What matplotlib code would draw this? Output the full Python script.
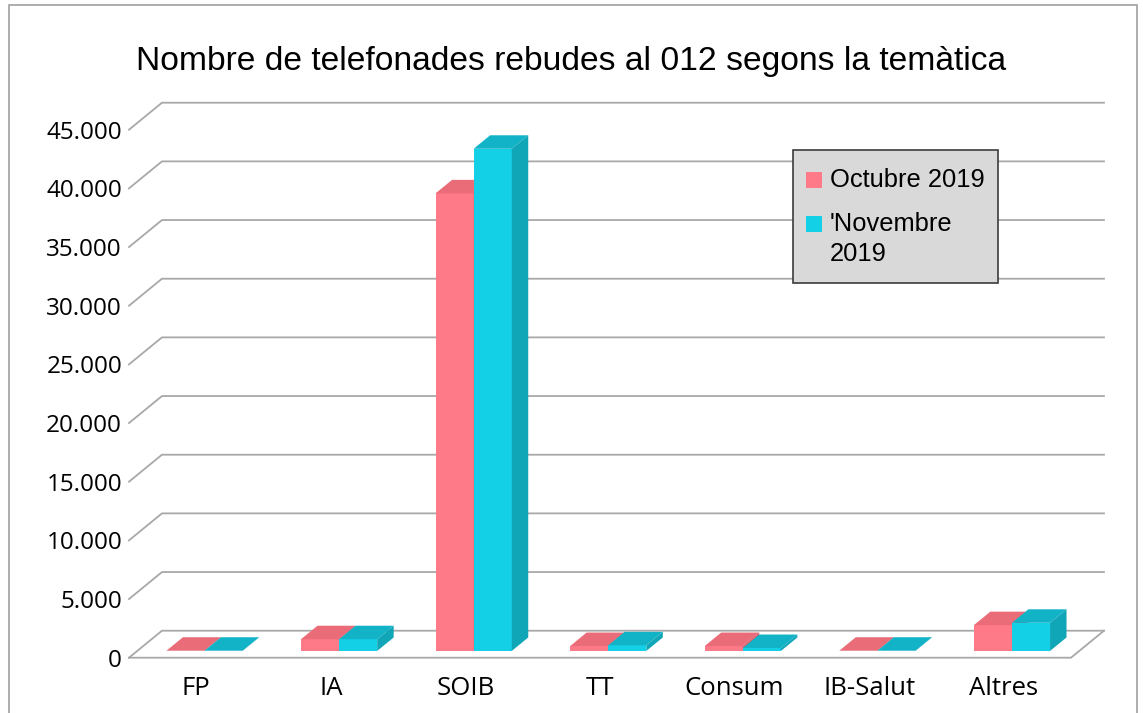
import matplotlib.pyplot as plt
from matplotlib.patches import Polygon, Rectangle

# Datos
categorias = ['FP', 'IA', 'SOIB', 'TT', 'Consum', 'IB-Salut', 'Altres']
octubre = [20, 1000, 39000, 420, 420, 20, 2200]
novembre = [20, 1000, 42800, 480, 250, 20, 2400]
series = ["Octubre 2019", "'Novembre\n2019"]
yticks = [0, 5000, 10000, 15000, 20000, 25000, 30000, 35000, 40000, 45000]

# Colores (frente, arriba, lado)
rosa = ('#ff7a88', '#e96c78', '#d8606c')
cian = ('#14d0e6', '#12b3c7', '#10a6b8')
gris = '#a8a8a8'

# Profundidad de la vista oblicua (en unidades de datos)
DX, DY = 0.245, 2300
ANCHO = 0.283

W, H = 1143, 713


def fx(px):
    return px / W


def fy(py):
    return 1 - py / H


def caja(ax, x0, v, colores):
    'Dibuja una barra pseudo 3D con su cara frontal, superior y lateral'
    bx, by = x0 + 0.25 * DX, 0.25 * DY
    dx, dy = 0.5 * DX, 0.5 * DY
    ax.bar(bx, v, ANCHO, bottom=by, align='edge', color=colores[0],
           clip_on=False, zorder=3)
    top = [(bx, by + v), (bx + ANCHO, by + v), (bx + ANCHO + dx, by + v + dy), (bx + dx, by + v + dy)]
    ax.add_patch(Polygon(top, closed=True, fc=colores[1], ec='none', clip_on=False, zorder=3))
    lado = [(bx + ANCHO, by), (bx + ANCHO + dx, by + dy), (bx + ANCHO + dx, by + v + dy), (bx + ANCHO, by + v)]
    ax.add_patch(Polygon(lado, closed=True, fc=colores[2], ec='none', clip_on=False, zorder=3))


fig = plt.figure(figsize=(W / 100, H / 100), dpi=100)
ax = fig.add_axes([fx(129), fy(657.7), 942 / W, 528 / H])
ax.set_xlim(-0.5, 6.5)
ax.set_ylim(0, 45000)

# Marco exterior
fig.patches.append(Rectangle((fx(9), -0.1), 1128 / W, 1.1 - 5 / H,
                             transform=fig.transFigure, fill=False, ec='#a0a0a0', lw=1.2))

# Pared del fondo y pared izquierda
for y in yticks:
    ax.plot([-0.5, -0.5 + DX, 6.5 + DX], [y, y + DY, y + DY], color=gris, lw=1.3,
            clip_on=False, zorder=1)
# Suelo
ax.plot([-0.5, 6.5, 6.5 + DX], [0, 0, DY], color=gris, lw=1.3, clip_on=False, zorder=1)

for i in range(len(categorias)):
    caja(ax, i - ANCHO, octubre[i], rosa)
    caja(ax, i, novembre[i], cian)

for s in ax.spines.values():
    s.set_visible(False)
ax.set_xticks(range(len(categorias)))
ax.set_xticklabels(categorias, fontsize=18.5, fontfamily='Open Sans')
ax.set_yticks(yticks)
ax.set_yticklabels([f'{y:,}'.replace(',', '.') for y in yticks], fontsize=17.5,
                   fontfamily='Open Sans')
ax.tick_params(axis='both', length=0)
ax.tick_params(axis='x', pad=13)
ax.tick_params(axis='y', pad=5)
ax.patch.set_visible(False)

fig.text(0.5, fy(70), 'Nombre de telefonades rebudes al 012 segons la temàtica',
         ha='center', va='baseline', fontsize=24.2, fontfamily='Liberation Sans')

# Leyenda dibujada a mano (el marcador va alineado con la primera linea)
fig.patches.append(Rectangle((fx(793), fy(283)), 205 / W, 133 / H, transform=fig.transFigure,
                             fc='#d9d9d9', ec='#3c3c3c', lw=1.2, zorder=5))
fila = 180
for color, nombre in zip([rosa[0], cian[0]], series):
    fig.patches.append(Rectangle((fx(806), fy(fila + 8)), 16 / W, 16 / H, transform=fig.transFigure,
                                 fc=color, ec='none', zorder=6))
    for linea in nombre.split('\n'):
        fig.text(fx(830), fy(fila), linea, ha='left', va='center', fontsize=18.4,
                 fontfamily='Liberation Sans', zorder=6)
        fila += 30
    fila += 14

fig.savefig('out.png', dpi=100)
